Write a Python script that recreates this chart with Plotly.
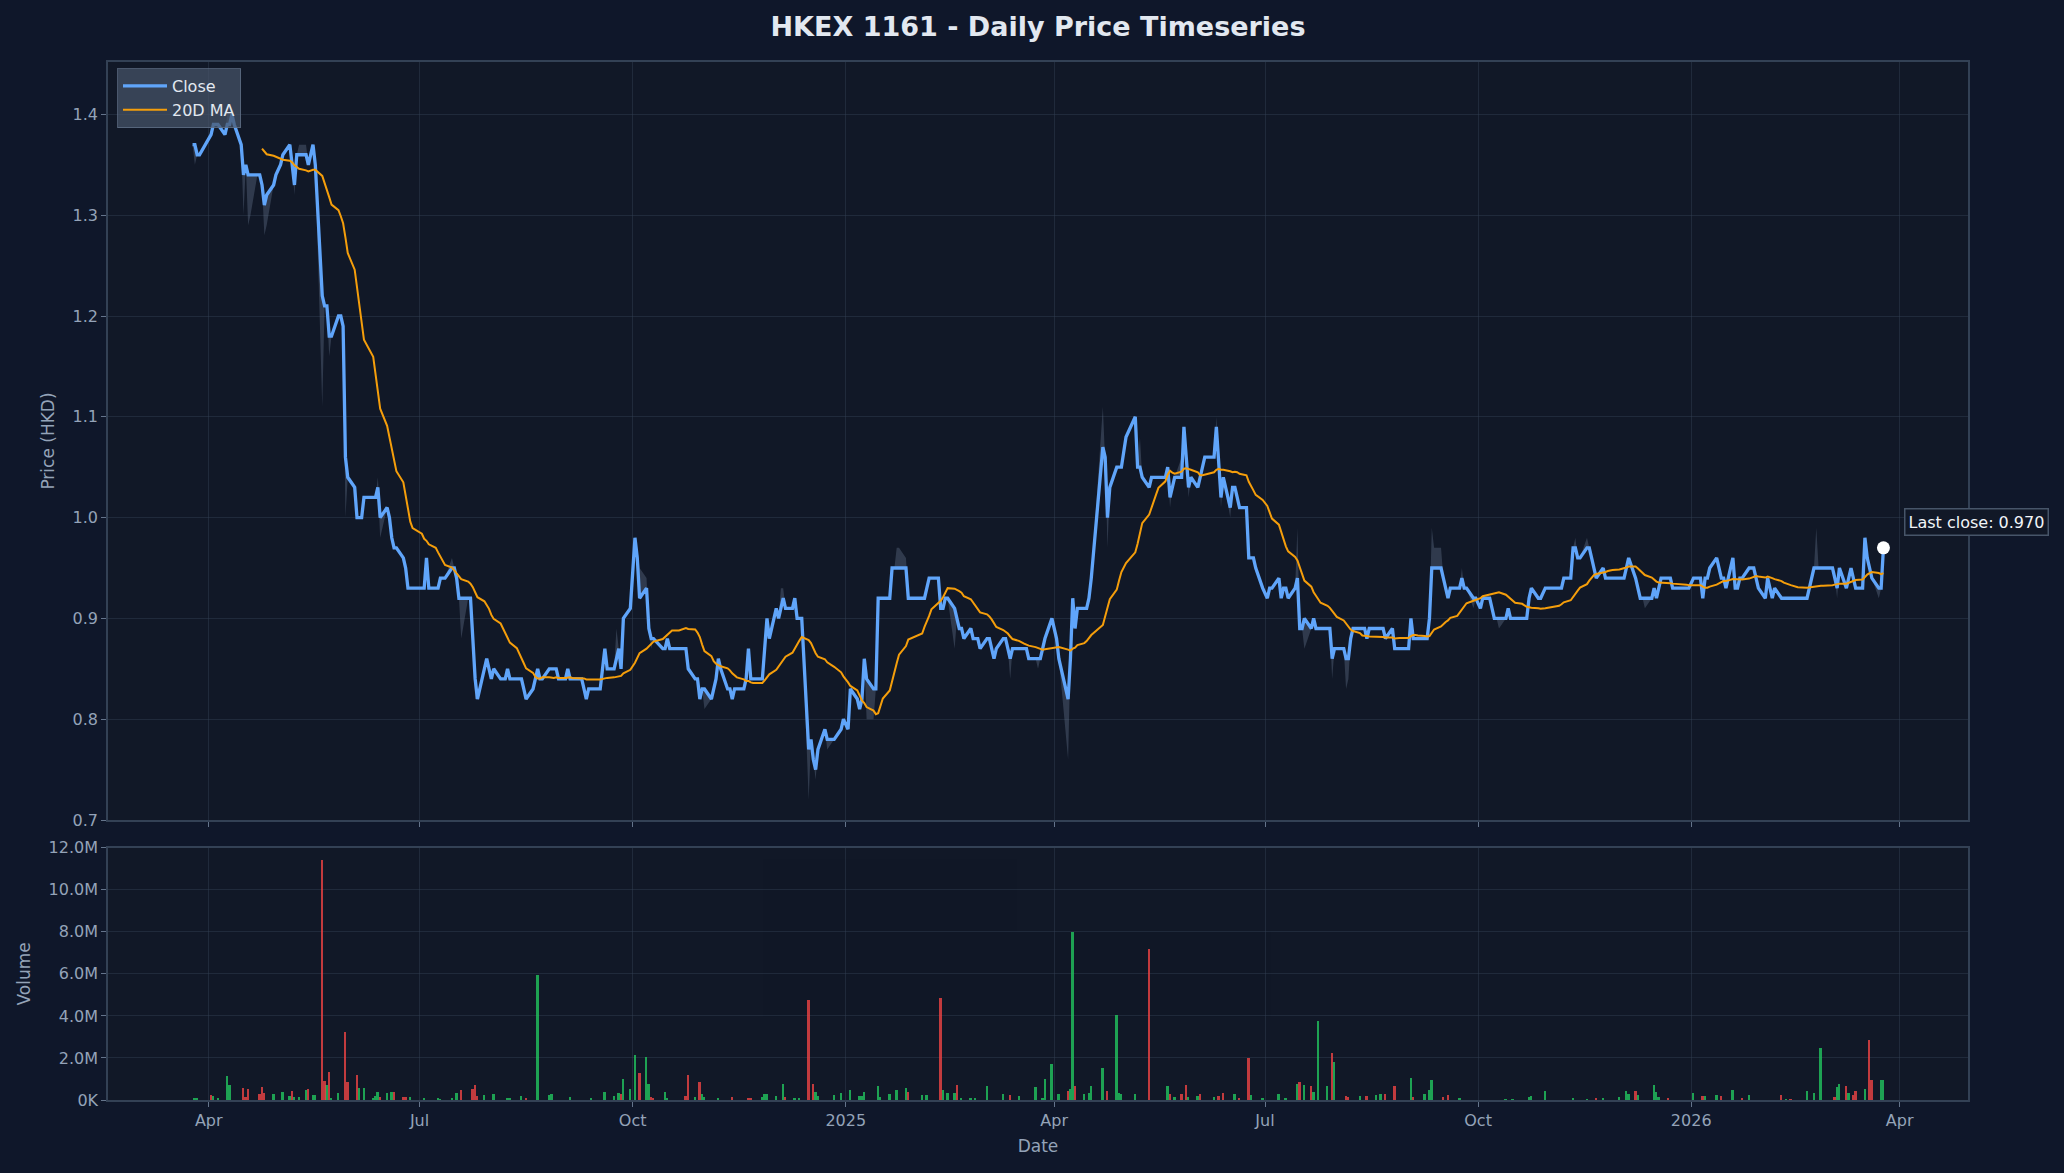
import pandas as pd
import plotly.graph_objects as go

# ---------------- data ----------------
START_DATE = "2024-03-25"
END_DATE = "2026-03-25"

HK_HOLIDAYS = [
    "2024-03-29", "2024-04-01", "2024-04-04", "2024-05-01", "2024-05-15", "2024-06-10",
    "2024-07-01", "2024-09-18", "2024-10-01", "2024-10-11", "2024-12-25", "2024-12-26",
    "2025-01-01", "2025-01-29", "2025-01-30", "2025-01-31", "2025-04-04", "2025-04-18",
    "2025-04-21", "2025-05-01", "2025-05-05", "2025-07-01", "2025-10-01", "2025-10-07",
    "2025-10-29", "2025-12-25", "2025-12-26", "2026-01-01", "2026-02-17", "2026-02-18",
    "2026-02-19",
]

# closing price at each change (held until the next listed change)
CLOSE_2024 = [
    ("2024-03-25", 1.37), ("2024-03-27", 1.36), ("2024-04-02", 1.38), ("2024-04-03", 1.39),
    ("2024-04-08", 1.38), ("2024-04-09", 1.39), ("2024-04-11", 1.40), ("2024-04-12", 1.39),
    ("2024-04-15", 1.37), ("2024-04-16", 1.34), ("2024-04-17", 1.35), ("2024-04-18", 1.34),
    ("2024-04-24", 1.33), ("2024-04-25", 1.31), ("2024-04-26", 1.32), ("2024-04-29", 1.33),
    ("2024-04-30", 1.34), ("2024-05-02", 1.35), ("2024-05-03", 1.36), ("2024-05-06", 1.37),
    ("2024-05-07", 1.35), ("2024-05-08", 1.33), ("2024-05-09", 1.36), ("2024-05-14", 1.35),
    ("2024-05-16", 1.37), ("2024-05-17", 1.35), ("2024-05-20", 1.22), ("2024-05-21", 1.21),
    ("2024-05-23", 1.18), ("2024-05-27", 1.20), ("2024-05-29", 1.19), ("2024-05-30", 1.06),
    ("2024-05-31", 1.04), ("2024-06-03", 1.03), ("2024-06-04", 1.00), ("2024-06-07", 1.02),
    ("2024-06-13", 1.03), ("2024-06-14", 1.00), ("2024-06-17", 1.01), ("2024-06-18", 1.00),
    ("2024-06-19", 0.98), ("2024-06-20", 0.97), ("2024-06-24", 0.96), ("2024-06-25", 0.95),
    ("2024-06-26", 0.93), ("2024-07-04", 0.96), ("2024-07-05", 0.93), ("2024-07-10", 0.94),
    ("2024-07-15", 0.95), ("2024-07-17", 0.94), ("2024-07-18", 0.92), ("2024-07-24", 0.88),
    ("2024-07-25", 0.84), ("2024-07-26", 0.82), ("2024-07-29", 0.85), ("2024-07-30", 0.86),
    ("2024-07-31", 0.85), ("2024-08-01", 0.84), ("2024-08-02", 0.85), ("2024-08-05", 0.84),
    ("2024-08-08", 0.85), ("2024-08-09", 0.84), ("2024-08-15", 0.83), ("2024-08-16", 0.82),
    ("2024-08-19", 0.83), ("2024-08-20", 0.84), ("2024-08-21", 0.85), ("2024-08-22", 0.84),
    ("2024-08-26", 0.85), ("2024-08-30", 0.84), ("2024-09-03", 0.85), ("2024-09-04", 0.84),
    ("2024-09-10", 0.83), ("2024-09-11", 0.82), ("2024-09-12", 0.83), ("2024-09-19", 0.87),
    ("2024-09-20", 0.85), ("2024-09-24", 0.86), ("2024-09-25", 0.87), ("2024-09-26", 0.85),
    ("2024-09-27", 0.90), ("2024-09-30", 0.91), ("2024-10-02", 0.98), ("2024-10-03", 0.96),
    ("2024-10-04", 0.92), ("2024-10-07", 0.93), ("2024-10-08", 0.89), ("2024-10-09", 0.88),
    ("2024-10-14", 0.87), ("2024-10-16", 0.88), ("2024-10-17", 0.87), ("2024-10-25", 0.85),
    ("2024-10-28", 0.84), ("2024-10-30", 0.82), ("2024-10-31", 0.83), ("2024-11-04", 0.82),
    ("2024-11-05", 0.83), ("2024-11-06", 0.84), ("2024-11-07", 0.86), ("2024-11-08", 0.85),
    ("2024-11-11", 0.83), ("2024-11-13", 0.82), ("2024-11-14", 0.83), ("2024-11-19", 0.84),
    ("2024-11-20", 0.87), ("2024-11-21", 0.84), ("2024-11-27", 0.87), ("2024-11-28", 0.90),
    ("2024-11-29", 0.88), ("2024-12-02", 0.91), ("2024-12-03", 0.90), ("2024-12-04", 0.91),
    ("2024-12-05", 0.92), ("2024-12-06", 0.91), ("2024-12-10", 0.92), ("2024-12-11", 0.90),
    ("2024-12-16", 0.77), ("2024-12-17", 0.78), ("2024-12-18", 0.76), ("2024-12-19", 0.75),
    ("2024-12-20", 0.77), ("2024-12-23", 0.79), ("2024-12-24", 0.78), ("2024-12-30", 0.79),
    ("2024-12-31", 0.80),
]
CLOSE_2025 = [
    ("2025-01-02", 0.79), ("2025-01-03", 0.83), ("2025-01-06", 0.82), ("2025-01-07", 0.81),
    ("2025-01-08", 0.82), ("2025-01-09", 0.86), ("2025-01-10", 0.84), ("2025-01-13", 0.83),
    ("2025-01-15", 0.92), ("2025-01-21", 0.95), ("2025-01-28", 0.92), ("2025-02-05", 0.93),
    ("2025-02-06", 0.94), ("2025-02-11", 0.91), ("2025-02-13", 0.92), ("2025-02-17", 0.91),
    ("2025-02-18", 0.90), ("2025-02-19", 0.89), ("2025-02-21", 0.88), ("2025-02-24", 0.89),
    ("2025-02-25", 0.88), ("2025-02-28", 0.87), ("2025-03-03", 0.88), ("2025-03-05", 0.87),
    ("2025-03-06", 0.86), ("2025-03-07", 0.87), ("2025-03-10", 0.88), ("2025-03-12", 0.87),
    ("2025-03-13", 0.86), ("2025-03-14", 0.87), ("2025-03-21", 0.86), ("2025-03-27", 0.87),
    ("2025-03-28", 0.88), ("2025-03-31", 0.90), ("2025-04-01", 0.89), ("2025-04-02", 0.88),
    ("2025-04-03", 0.86), ("2025-04-07", 0.82), ("2025-04-08", 0.86), ("2025-04-09", 0.92),
    ("2025-04-10", 0.89), ("2025-04-11", 0.91), ("2025-04-16", 0.92), ("2025-04-17", 0.94),
    ("2025-04-22", 1.07), ("2025-04-23", 1.06), ("2025-04-24", 1.00), ("2025-04-25", 1.03),
    ("2025-04-28", 1.05), ("2025-05-02", 1.08), ("2025-05-06", 1.10), ("2025-05-07", 1.05),
    ("2025-05-09", 1.04), ("2025-05-12", 1.03), ("2025-05-13", 1.04), ("2025-05-20", 1.05),
    ("2025-05-21", 1.02), ("2025-05-22", 1.03), ("2025-05-23", 1.04), ("2025-05-27", 1.09),
    ("2025-05-28", 1.06), ("2025-05-29", 1.03), ("2025-05-30", 1.04), ("2025-06-02", 1.03),
    ("2025-06-03", 1.04), ("2025-06-04", 1.05), ("2025-06-05", 1.06), ("2025-06-10", 1.09),
    ("2025-06-11", 1.06), ("2025-06-12", 1.02), ("2025-06-13", 1.04), ("2025-06-16", 1.01),
    ("2025-06-17", 1.03), ("2025-06-19", 1.02), ("2025-06-20", 1.01), ("2025-06-24", 0.96),
    ("2025-06-27", 0.95), ("2025-06-30", 0.93), ("2025-07-02", 0.92), ("2025-07-03", 0.93),
    ("2025-07-07", 0.94), ("2025-07-08", 0.92), ("2025-07-09", 0.93), ("2025-07-11", 0.92),
    ("2025-07-14", 0.93), ("2025-07-15", 0.94), ("2025-07-16", 0.89), ("2025-07-18", 0.90),
    ("2025-07-21", 0.89), ("2025-07-22", 0.90), ("2025-07-23", 0.89), ("2025-07-30", 0.86),
    ("2025-07-31", 0.87), ("2025-08-05", 0.86), ("2025-08-07", 0.88), ("2025-08-08", 0.89),
    ("2025-08-14", 0.88), ("2025-08-15", 0.89), ("2025-08-22", 0.88), ("2025-08-25", 0.89),
    ("2025-08-26", 0.87), ("2025-09-02", 0.90), ("2025-09-03", 0.88), ("2025-09-10", 0.90),
    ("2025-09-11", 0.95), ("2025-09-16", 0.94), ("2025-09-17", 0.93), ("2025-09-18", 0.92),
    ("2025-09-19", 0.93), ("2025-09-24", 0.94), ("2025-09-25", 0.93), ("2025-09-29", 0.92),
    ("2025-10-02", 0.91), ("2025-10-03", 0.92), ("2025-10-08", 0.90), ("2025-10-14", 0.91),
    ("2025-10-15", 0.90), ("2025-10-23", 0.92), ("2025-10-24", 0.93), ("2025-10-27", 0.92),
    ("2025-10-30", 0.93), ("2025-11-07", 0.94), ("2025-11-11", 0.97), ("2025-11-13", 0.96),
    ("2025-11-17", 0.97), ("2025-11-19", 0.96), ("2025-11-20", 0.95), ("2025-11-21", 0.94),
    ("2025-11-24", 0.95), ("2025-11-25", 0.94), ("2025-12-04", 0.95), ("2025-12-05", 0.96),
    ("2025-12-08", 0.94), ("2025-12-09", 0.93), ("2025-12-10", 0.92), ("2025-12-16", 0.93),
    ("2025-12-17", 0.92), ("2025-12-18", 0.93), ("2025-12-19", 0.94), ("2025-12-24", 0.93),
]
CLOSE_2026 = [
    ("2026-01-02", 0.94), ("2026-01-06", 0.92), ("2026-01-07", 0.94), ("2026-01-09", 0.95),
    ("2026-01-12", 0.96), ("2026-01-13", 0.95), ("2026-01-14", 0.94), ("2026-01-16", 0.93),
    ("2026-01-19", 0.96), ("2026-01-20", 0.93), ("2026-01-22", 0.94), ("2026-01-26", 0.95),
    ("2026-01-29", 0.94), ("2026-01-30", 0.93), ("2026-02-02", 0.92), ("2026-02-03", 0.94),
    ("2026-02-04", 0.93), ("2026-02-05", 0.92), ("2026-02-06", 0.93), ("2026-02-09", 0.92),
    ("2026-02-23", 0.95), ("2026-03-04", 0.94), ("2026-03-05", 0.93), ("2026-03-06", 0.95),
    ("2026-03-09", 0.93), ("2026-03-10", 0.94), ("2026-03-11", 0.95), ("2026-03-12", 0.94),
    ("2026-03-13", 0.93), ("2026-03-17", 0.98), ("2026-03-18", 0.96), ("2026-03-19", 0.95),
    ("2026-03-20", 0.94), ("2026-03-23", 0.93), ("2026-03-25", 0.97),
]

# intraday extremes visible as the shaded high/low band
HIGH_WICKS = [
    ("2024-04-09", 1.40), ("2024-04-10", 1.40), ("2024-05-10", 1.37), ("2024-05-13", 1.37),
    ("2024-05-27", 1.20), ("2024-06-13", 1.04), ("2024-07-15", 0.96), ("2024-09-24", 0.89),
    ("2024-10-03", 0.97), ("2024-10-04", 0.95), ("2024-10-07", 0.94), ("2024-12-04", 0.93),
    ("2024-12-05", 0.93), ("2025-01-23", 0.97), ("2025-01-24", 0.97), ("2025-01-27", 0.96),
    ("2025-04-22", 1.11), ("2025-05-06", 1.10), ("2025-05-08", 1.08), ("2025-05-26", 1.06),
    ("2025-06-10", 1.10), ("2025-07-15", 0.99), ("2025-09-11", 0.99), ("2025-09-12", 0.97),
    ("2025-09-15", 0.97), ("2025-09-24", 0.95), ("2025-11-12", 0.98), ("2025-11-17", 0.98),
    ("2026-01-19", 0.96), ("2026-02-24", 0.99), ("2026-03-17", 0.98),
]
LOW_WICKS = [
    ("2024-03-26", 1.35), ("2024-04-16", 1.30), ("2024-04-18", 1.29), ("2024-04-19", 1.30),
    ("2024-04-25", 1.28), ("2024-04-26", 1.29), ("2024-05-08", 1.32), ("2024-05-20", 1.11),
    ("2024-05-23", 1.16), ("2024-05-30", 1.00), ("2024-06-14", 0.98), ("2024-07-19", 0.88),
    ("2024-07-25", 0.82), ("2024-08-16", 0.82), ("2024-09-11", 0.82), ("2024-10-09", 0.87),
    ("2024-11-01", 0.81), ("2024-12-16", 0.72), ("2024-12-19", 0.74), ("2024-12-24", 0.77),
    ("2025-01-10", 0.80), ("2025-01-13", 0.80), ("2025-02-17", 0.87), ("2025-03-13", 0.84),
    ("2025-03-25", 0.85), ("2025-04-07", 0.76), ("2025-04-24", 0.97), ("2025-05-21", 1.01),
    ("2025-05-29", 1.02), ("2025-06-12", 1.01), ("2025-06-16", 1.00), ("2025-07-18", 0.87),
    ("2025-07-30", 0.84), ("2025-08-05", 0.83), ("2025-08-06", 0.84), ("2025-09-29", 0.91),
    ("2025-10-10", 0.89), ("2025-12-12", 0.91), ("2026-03-05", 0.92), ("2026-03-23", 0.92),
]

# daily volume in millions of shares (up days / down days)
VOL_UP = [
    ("2024-03-26", 0.13), ("2024-03-27", 0.10), ("2024-04-03", 0.20), ("2024-04-05", 0.12),
    ("2024-04-09", 1.15), ("2024-04-10", 0.73), ("2024-04-29", 0.28), ("2024-05-03", 0.41),
    ("2024-05-06", 0.20), ("2024-05-08", 0.16), ("2024-05-10", 0.16), ("2024-05-13", 0.47),
    ("2024-05-16", 0.27), ("2024-05-17", 0.27), ("2024-05-22", 0.73), ("2024-05-24", 0.10),
    ("2024-05-27", 0.36), ("2024-06-05", 0.57), ("2024-06-07", 0.57), ("2024-06-11", 0.13),
    ("2024-06-12", 0.20), ("2024-06-13", 0.41), ("2024-06-17", 0.36), ("2024-06-19", 0.41),
    ("2024-06-27", 0.17), ("2024-07-03", 0.12), ("2024-07-09", 0.13), ("2024-07-10", 0.08),
    ("2024-07-15", 0.10), ("2024-07-17", 0.36), ("2024-07-29", 0.24), ("2024-08-02", 0.28),
    ("2024-08-08", 0.10), ("2024-08-09", 0.10), ("2024-08-14", 0.20), ("2024-08-21", 5.98),
    ("2024-08-26", 0.24), ("2024-08-27", 0.30), ("2024-09-04", 0.17), ("2024-09-13", 0.10),
    ("2024-09-19", 0.41), ("2024-09-23", 0.20), ("2024-09-25", 0.36), ("2024-09-27", 1.00),
    ("2024-09-30", 0.52), ("2024-10-02", 2.14), ("2024-10-07", 2.04), ("2024-10-08", 0.76),
    ("2024-10-15", 0.41), ("2024-10-16", 0.10), ("2024-10-28", 0.15), ("2024-10-31", 0.30),
    ("2024-11-01", 0.15), ("2024-11-07", 0.10), ("2024-11-26", 0.16), ("2024-11-27", 0.28),
    ("2024-11-28", 0.28), ("2024-12-02", 0.20), ("2024-12-05", 0.76), ("2024-12-10", 0.10),
    ("2024-12-12", 0.10), ("2024-12-19", 0.40), ("2024-12-20", 0.20), ("2024-12-27", 0.25),
    ("2024-12-30", 0.33), ("2025-01-03", 0.47), ("2025-01-07", 0.20), ("2025-01-08", 0.20),
    ("2025-01-09", 0.41), ("2025-01-15", 0.68), ("2025-01-16", 0.17), ("2025-01-20", 0.28),
    ("2025-01-23", 0.47), ("2025-01-27", 0.60), ("2025-02-03", 0.24), ("2025-02-05", 0.24),
    ("2025-02-12", 0.47), ("2025-02-14", 0.36), ("2025-02-17", 0.36), ("2025-02-20", 0.10),
    ("2025-02-24", 0.10), ("2025-02-26", 0.10), ("2025-03-03", 0.66), ("2025-03-10", 0.28),
    ("2025-03-17", 0.20), ("2025-03-24", 0.63), ("2025-03-27", 0.10), ("2025-03-28", 1.00),
    ("2025-03-31", 1.71), ("2025-04-03", 0.28), ("2025-04-08", 0.52), ("2025-04-09", 8.00),
    ("2025-04-14", 0.28), ("2025-04-16", 0.33), ("2025-04-17", 0.68), ("2025-04-22", 1.55),
    ("2025-04-28", 4.04), ("2025-04-29", 0.36), ("2025-04-30", 0.28), ("2025-05-06", 0.28),
    ("2025-05-20", 0.66), ("2025-05-23", 0.16), ("2025-05-29", 0.15), ("2025-06-02", 0.20),
    ("2025-06-09", 0.16), ("2025-06-18", 0.30), ("2025-06-25", 0.25), ("2025-06-30", 0.10),
    ("2025-07-07", 0.30), ("2025-07-10", 0.10), ("2025-07-15", 0.76), ("2025-07-18", 0.71),
    ("2025-07-22", 0.40), ("2025-07-24", 3.75), ("2025-07-28", 0.68), ("2025-07-31", 1.84),
    ("2025-08-11", 0.20), ("2025-08-18", 0.25), ("2025-08-20", 0.28), ("2025-09-02", 1.07),
    ("2025-09-08", 0.28), ("2025-09-10", 0.50), ("2025-09-11", 0.98), ("2025-09-23", 0.13),
    ("2025-10-13", 0.05), ("2025-10-16", 0.05), ("2025-10-23", 0.16), ("2025-10-24", 0.20),
    ("2025-10-30", 0.44), ("2025-11-11", 0.13), ("2025-11-17", 0.08), ("2025-11-24", 0.13),
    ("2025-12-01", 0.16), ("2025-12-04", 0.44), ("2025-12-05", 0.30), ("2025-12-09", 0.25),
    ("2025-12-16", 0.73), ("2025-12-17", 0.40), ("2025-12-18", 0.16), ("2026-01-02", 0.33),
    ("2026-01-07", 0.20), ("2026-01-12", 0.27), ("2026-01-19", 0.47), ("2026-01-26", 0.27),
    ("2026-02-11", 0.08), ("2026-02-20", 0.46), ("2026-02-23", 0.33), ("2026-02-26", 2.50),
    ("2026-03-05", 0.63), ("2026-03-06", 0.79), ("2026-03-10", 0.33), ("2026-03-17", 0.52),
    ("2026-03-24", 0.95), ("2026-03-25", 0.95),
]
VOL_DOWN = [
    ("2024-04-02", 0.24), ("2024-04-16", 0.60), ("2024-04-17", 0.15), ("2024-04-18", 0.52),
    ("2024-04-23", 0.28), ("2024-04-24", 0.63), ("2024-04-25", 0.36), ("2024-05-07", 0.43),
    ("2024-05-14", 0.52), ("2024-05-20", 11.44), ("2024-05-21", 0.90), ("2024-05-23", 1.36),
    ("2024-05-30", 3.26), ("2024-05-31", 0.85), ("2024-06-04", 1.19), ("2024-06-14", 0.16),
    ("2024-06-20", 0.41), ("2024-06-24", 0.17), ("2024-06-25", 0.15), ("2024-07-19", 0.47),
    ("2024-07-24", 0.52), ("2024-07-25", 0.74), ("2024-07-26", 0.20), ("2024-08-16", 0.12),
    ("2024-09-26", 0.30), ("2024-10-04", 1.31), ("2024-10-09", 0.15), ("2024-10-10", 0.12),
    ("2024-10-24", 0.20), ("2024-10-25", 1.19), ("2024-10-30", 0.89), ("2024-11-13", 0.17),
    ("2024-11-20", 0.12), ("2024-11-21", 0.12), ("2024-12-06", 0.15), ("2024-12-16", 4.75),
    ("2024-12-18", 0.76), ("2025-01-28", 0.40), ("2025-02-11", 4.88), ("2025-02-18", 0.73),
    ("2025-03-13", 0.27), ("2025-04-07", 0.43), ("2025-04-10", 0.68), ("2025-04-24", 0.44),
    ("2025-05-12", 7.22), ("2025-05-21", 0.28), ("2025-05-26", 0.30), ("2025-05-28", 0.73),
    ("2025-06-03", 0.28), ("2025-06-11", 0.20), ("2025-06-13", 0.36), ("2025-06-20", 0.10),
    ("2025-06-24", 2.03), ("2025-07-16", 0.86), ("2025-07-21", 0.66), ("2025-07-30", 2.23),
    ("2025-08-05", 0.20), ("2025-08-06", 0.15), ("2025-08-14", 0.20), ("2025-08-22", 0.30),
    ("2025-08-26", 0.68), ("2025-09-03", 0.16), ("2025-09-16", 0.16), ("2025-09-18", 0.25),
    ("2025-11-21", 0.10), ("2025-12-08", 0.46), ("2025-12-22", 0.13), ("2026-01-06", 0.20),
    ("2026-01-14", 0.20), ("2026-01-23", 0.13), ("2026-02-09", 0.27), ("2026-02-13", 0.08),
    ("2026-03-04", 0.16), ("2026-03-09", 0.67), ("2026-03-12", 0.25), ("2026-03-13", 0.44),
    ("2026-03-19", 2.85), ("2026-03-20", 0.95),
]

X_TICK_DATES = ["2024-04-01", "2024-07-01", "2024-10-01", "2025-01-01", "2025-04-01",
                "2025-07-01", "2025-10-01", "2026-01-01", "2026-04-01"]
X_TICK_TEXT = ["Apr", "Jul", "Oct", "2025", "Apr", "Jul", "Oct", "2026", "Apr"]
PRICE_TICKS = [0.7, 0.8, 0.9, 1.0, 1.1, 1.2, 1.3, 1.4]
VOL_TICKS_M = [0, 2, 4, 6, 8, 10, 12]
VOL_TICK_TEXT = ["0K", "2.0M", "4.0M", "6.0M", "8.0M", "10.0M", "12.0M"]

# ---------------- build series ----------------
days = pd.bdate_range(START_DATE, END_DATE)
days = days[~days.isin(pd.to_datetime(HK_HOLIDAYS))]

cp = pd.Series({pd.Timestamp(d): v for d, v in CLOSE_2024 + CLOSE_2025 + CLOSE_2026}).sort_index()
close = cp.reindex(days.union(cp.index)).ffill().reindex(days)
high = close.copy()
low = close.copy()
for d, v in HIGH_WICKS:
    t = pd.Timestamp(d)
    if t in high.index:
        high[t] = max(high[t], v)
for d, v in LOW_WICKS:
    t = pd.Timestamp(d)
    if t in low.index:
        low[t] = min(low[t], v)
ma20 = close.rolling(20).mean()

# ---------------- style ----------------
PAPER = "#0f172a"
PLOT = "#111827"
SPINE = "#334155"
GRID = "rgba(51,65,85,0.45)"
TICK = "#94a3b8"
FONT = "DejaVu Sans"
W, H = 2064, 1173
L, R, T, B = 108, 96, 62, 73
plot_h = H - T - B
price_dom = [(1100 - 820) / plot_h, 1.0]
vol_dom = [0.0, (1100 - 847.7) / plot_h]

span = days[-1] - days[0]
x_range = [days[0] - span * 0.05, days[-1] + span * 0.05]

fig = go.Figure()
fig.add_trace(go.Scatter(x=days, y=low, mode="lines", line=dict(width=0, color="rgba(0,0,0,0)"),
                         showlegend=False, hoverinfo="skip", xaxis="x", yaxis="y"))
fig.add_trace(go.Scatter(x=days, y=high, mode="lines", line=dict(width=0, color="rgba(0,0,0,0)"),
                         fill="tonexty", fillcolor="rgba(100,116,139,0.38)",
                         showlegend=False, hoverinfo="skip", xaxis="x", yaxis="y"))
fig.add_trace(go.Scatter(x=days, y=close, mode="lines", name="Close",
                         line=dict(color="#60a5fa", width=3.3), xaxis="x", yaxis="y"))
fig.add_trace(go.Scatter(x=days, y=ma20, mode="lines", name="20D MA",
                         line=dict(color="#f59e0b", width=2), xaxis="x", yaxis="y"))
fig.add_trace(go.Scatter(x=[days[-1]], y=[close.iloc[-1]], mode="markers", showlegend=False,
                         marker=dict(color="white", size=13, line=dict(width=0)),
                         xaxis="x", yaxis="y"))

bar_w = 0.8 * 86400000
fig.add_trace(go.Bar(x=[pd.Timestamp(d) for d, _ in VOL_UP], y=[v * 1e6 for _, v in VOL_UP],
                     width=bar_w, marker=dict(color="#22c55e", line=dict(width=0)), opacity=0.8,
                     showlegend=False, xaxis="x2", yaxis="y2"))
fig.add_trace(go.Bar(x=[pd.Timestamp(d) for d, _ in VOL_DOWN], y=[v * 1e6 for _, v in VOL_DOWN],
                     width=bar_w, marker=dict(color="#ef4444", line=dict(width=0)), opacity=0.8,
                     showlegend=False, xaxis="x2", yaxis="y2"))

axis_common = dict(showline=True, linecolor=SPINE, linewidth=1.5, mirror=True, zeroline=False,
                   showgrid=True, gridcolor=GRID, gridwidth=1, ticks="outside", ticklen=5,
                   tickcolor="#64748b", tickwidth=1.2, tickfont=dict(color=TICK, size=16, family=FONT))

fig.update_layout(
    width=W, height=H,
    margin=dict(l=L, r=R, t=T, b=B, autoexpand=False),
    paper_bgcolor=PAPER, plot_bgcolor=PLOT,
    font=dict(family=FONT, color=TICK),
    barmode="overlay", bargap=0,
    title=dict(text="<b>HKEX 1161 - Daily Price Timeseries</b>", x=0.5, xref="paper",
               xanchor="center", y=1 - 26.5 / H, yref="container", yanchor="middle",
               font=dict(size=27, color="#e2e8f0", family=FONT)),
    xaxis=dict(axis_common, type="date", range=x_range, domain=[0, 1], anchor="y",
               tickvals=X_TICK_DATES, ticktext=X_TICK_TEXT, showticklabels=False),
    xaxis2=dict(axis_common, type="date", range=x_range, domain=[0, 1], anchor="y2", matches="x",
                tickvals=X_TICK_DATES, ticktext=X_TICK_TEXT,
                title=dict(text="Date", standoff=11, font=dict(size=17, color=TICK, family=FONT))),
    yaxis=dict(axis_common, domain=price_dom, anchor="x", range=[0.7, 1.452],
               tickvals=PRICE_TICKS, tickformat=".1f",
               title=dict(text="Price (HKD)", standoff=14, font=dict(size=17, color=TICK, family=FONT))),
    yaxis2=dict(axis_common, domain=vol_dom, anchor="x2", range=[0, 12e6],
                tickvals=[v * 1e6 for v in VOL_TICKS_M], ticktext=VOL_TICK_TEXT,
                title=dict(text="Volume", standoff=14, font=dict(size=17, color=TICK, family=FONT))),
    legend=dict(x=(117 - L) / (W - L - R), y=1 - (68 - T) / plot_h, xanchor="left", yanchor="top",
                traceorder="normal",
                bgcolor="rgba(71,85,105,0.72)", bordercolor="rgba(100,116,139,0.7)", borderwidth=1,
                font=dict(color="#e2e8f0", size=16, family=FONT), tracegroupgap=0,
                itemwidth=44),
    showlegend=True,
)

fig.add_annotation(x=days[-1], y=close.iloc[-1], xref="x", yref="y",
                   text=f"Last close: {close.iloc[-1]:.3f}", showarrow=False,
                   xanchor="left", yanchor="middle", xshift=21, yshift=26,
                   font=dict(color="#f1f5f9", size=16, family=FONT),
                   bgcolor="#111827", bordercolor="#475569", borderwidth=1.5, borderpad=3)

fig.write_html(
    "out.html",
    config={"displayModeBar": False},
    post_script="document.body.style.margin='0';document.body.style.background='#0f172a';",
)
